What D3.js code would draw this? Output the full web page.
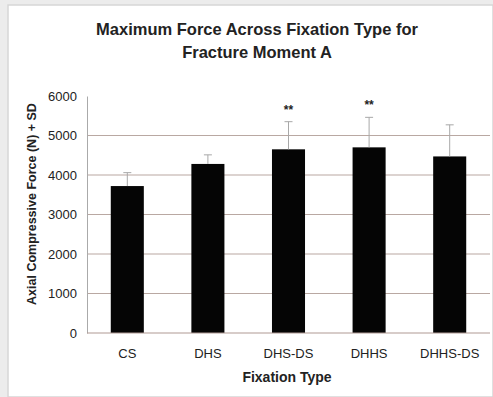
<!DOCTYPE html>
<html>
<head>
<meta charset="utf-8">
<script src="https://cdn.jsdelivr.net/npm/d3@7"></script>
<style>
  html, body { margin: 0; padding: 0; background: #ececec; }
  svg { display: block; }
  text { font-family: "Liberation Sans", Arial, sans-serif; fill: #222; }
</style>
</head>
<body>
<svg id="chart" width="493" height="397"></svg>
<script>
// Fixation types and mean maximum force (N) with standard deviation
const categories = ["CS", "DHS", "DHS-DS", "DHHS", "DHHS-DS"];
const meanForce = [3720, 4280, 4650, 4700, 4470];
const sdForce = [340, 230, 700, 760, 800];
const significance = ["", "", "**", "**", ""];
const yTicks = [0, 1000, 2000, 3000, 4000, 5000, 6000];

const svg = d3.select("#chart");
const W = 493, H = 397;
const margin = { left: 87, right: 3, top: 96, bottom: 64 };

// white figure panel with a thin grey frame
svg.append("rect").attr("x", 8).attr("y", 5).attr("width", W - 8).attr("height", H - 5)
  .attr("fill", "#fff").attr("stroke", "#d6d6d6").attr("stroke-width", 1.5);

const x = d3.scaleBand().domain(categories)
  .range([margin.left, W - margin.right]).paddingInner(0.59).paddingOuter(0.295);
const y = d3.scaleLinear().domain([0, 6000]).range([H - margin.bottom, margin.top]);

// horizontal gridlines
svg.append("g").selectAll("line").data(yTicks.filter(t => t > 0 && t < 6000)).join("line")
  .attr("x1", margin.left).attr("x2", W - margin.right)
  .attr("y1", d => y(d)).attr("y2", d => y(d))
  .attr("stroke", "#b9a8a2").attr("stroke-width", 1.2);

// y axis
const yAxis = svg.append("g").attr("transform", `translate(${margin.left},0)`)
  .call(d3.axisLeft(y).tickValues(yTicks).tickSize(0).tickPadding(10).tickFormat(d3.format("d")));
yAxis.select(".domain").attr("stroke", "#aaa").attr("stroke-width", 1);
yAxis.selectAll("text").style("font-size", "13px").attr("fill", "#222")
  .style("font-family", "Liberation Sans, Arial, sans-serif");

// bars
svg.append("g").selectAll("rect").data(categories).join("rect")
  .attr("x", d => x(d)).attr("width", x.bandwidth())
  .attr("y", (d, i) => y(meanForce[i]))
  .attr("height", (d, i) => y(0) - y(meanForce[i]))
  .attr("fill", "#050505");

// baseline
svg.append("line").attr("x1", margin.left).attr("x2", W - margin.right)
  .attr("y1", y(0)).attr("y2", y(0)).attr("stroke", "#b09a94").attr("stroke-width", 1.2);

// error bars (+SD)
const err = svg.append("g").attr("stroke", "#a8a8a8").attr("stroke-width", 1);
categories.forEach((c, i) => {
  const cx = x(c) + x.bandwidth() / 2;
  err.append("line").attr("x1", cx).attr("x2", cx)
    .attr("y1", y(meanForce[i])).attr("y2", y(meanForce[i] + sdForce[i]));
  err.append("line").attr("x1", cx - 4).attr("x2", cx + 4)
    .attr("y1", y(meanForce[i] + sdForce[i])).attr("y2", y(meanForce[i] + sdForce[i]));
});

// significance markers
svg.append("g").selectAll("text").data(categories).join("text")
  .attr("x", d => x(d) + x.bandwidth() / 2)
  .attr("y", (d, i) => y(meanForce[i] + sdForce[i]) - 8)
  .attr("text-anchor", "middle").style("font-size", "12px").style("font-weight", "bold")
  .text((d, i) => significance[i]);

// x axis labels
svg.append("g").selectAll("text").data(categories).join("text")
  .attr("x", d => x(d) + x.bandwidth() / 2).attr("y", 358)
  .attr("text-anchor", "middle").style("font-size", "13px")
  .text(d => d);

// axis titles
svg.append("text").attr("x", 287).attr("y", 382).attr("text-anchor", "middle")
  .style("font-size", "14px").style("font-weight", "bold").text("Fixation Type");
svg.append("text").attr("transform", "translate(36,204) rotate(-90)").attr("text-anchor", "middle")
  .style("font-size", "12.5px").style("font-weight", "bold").text("Axial Compressive Force (N) + SD");

// chart title
const title = svg.append("text").attr("text-anchor", "middle").style("font-size", "16.5px")
  .style("font-weight", "bold");
title.append("tspan").attr("x", 257).attr("y", 35).text("Maximum Force Across Fixation Type for");
title.append("tspan").attr("x", 257).attr("y", 58).text("Fracture Moment A");
</script>
</body>
</html>
